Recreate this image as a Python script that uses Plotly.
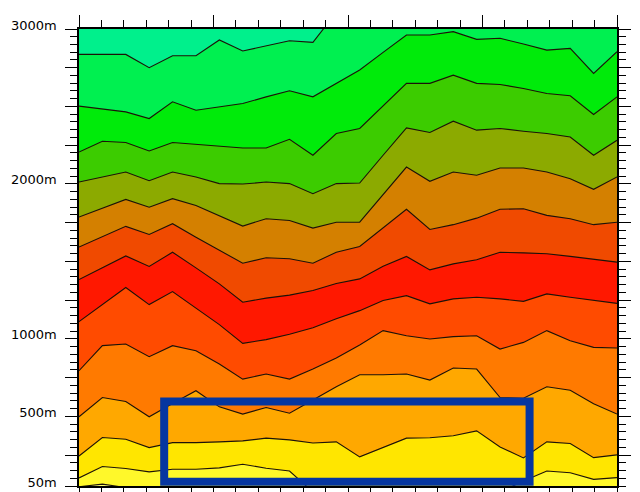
import plotly.graph_objects as go

# 24 soundings spread evenly over the day (hours 0-24)
hours = [round(k * 24 / 23, 4) for k in range(24)]

# Height (m) of each contour line at every sounding, listed from the top line down
line_01 = [2836, 2836, 2836, 2750, 2827, 2827, 2929, 2858, 2892, 2924, 2914, 3103,
           3300, 3300, 3300, 3300, 3300, 3300, 3300, 3300, 3300, 3300, 3300, 3300]
line_02 = [2502, 2484, 2465, 2422, 2530, 2476, 2497, 2519, 2562, 2601, 2562, 2649,
           2735, 2849, 2961, 2961, 2983, 2933, 2940, 2903, 2864, 2875, 2713, 2853]
line_03 = [2206, 2275, 2267, 2213, 2267, 2254, 2243, 2232, 2232, 2288, 2185, 2325,
           2358, 2504, 2649, 2649, 2702, 2649, 2642, 2616, 2584, 2569, 2448, 2562]
line_04 = [2012, 2045, 2077, 2021, 2077, 2045, 2002, 1999, 2012, 2002, 1937, 2002,
           2006, 2185, 2362, 2332, 2405, 2347, 2358, 2340, 2325, 2303, 2185, 2282]
line_05 = [1786, 1842, 1900, 1850, 1905, 1861, 1795, 1728, 1775, 1764, 1715, 1753,
           1753, 1933, 2109, 2017, 2077, 2056, 2103, 2103, 2077, 2034, 1965, 2045]
line_06 = [1592, 1659, 1726, 1674, 1743, 1656, 1570, 1488, 1523, 1517, 1488, 1559,
           1596, 1719, 1836, 1706, 1737, 1779, 1836, 1840, 1797, 1775, 1737, 1753]
line_07 = [1383, 1460, 1535, 1467, 1559, 1458, 1355, 1236, 1263, 1282, 1312, 1357,
           1387, 1469, 1532, 1445, 1484, 1510, 1559, 1555, 1549, 1532, 1514, 1495]
line_08 = [1111, 1221, 1331, 1221, 1305, 1198, 1092, 971, 995, 1030, 1072, 1130,
           1182, 1247, 1279, 1226, 1258, 1268, 1258, 1242, 1290, 1268, 1247, 1229]
line_09 = [794, 956, 967, 885, 956, 923, 837, 740, 773, 740, 805, 876,
           960, 1053, 1020, 999, 1014, 1020, 934, 977, 1053, 988, 945, 941]
line_10 = [497, 621, 595, 497, 583, 665, 561, 514, 557, 520, 605, 691,
           768, 768, 773, 734, 812, 805, 621, 616, 691, 668, 581, 514]
line_11 = [244, 363, 352, 298, 330, 330, 335, 341, 359, 348, 328, 335,
           238, 296, 359, 361, 374, 406, 302, 231, 335, 324, 233, 251]
line_12 = [102, 176, 163, 141, 158, 158, 167, 190, 165, 147, 11, 11,
           11, 11, 11, 11, 11, 11, 11, 82, 147, 136, 93, 104]
line_13 = [45, 62, 40, 20, 20, 20, 20, 20, 20, 20, 20, 20,
           20, 20, 20, 20, 20, 20, 20, 20, 20, 20, 20, 20]

contour_lines = [line_01, line_02, line_03, line_04, line_05, line_06, line_07,
                 line_08, line_09, line_10, line_11, line_12, line_13]

# Band colours: the first is the band above the top line, then one per line below it
band_top = "#00F08C"
band_colors = ["#00F050", "#00EB0A", "#3CCC00", "#8CAA00", "#D48000", "#F04A00",
               "#FF1800", "#FF4B00", "#FF7A00", "#FFA800", "#FFE600", "#FFF82A",
               "#FFFF70"]

# Height axis
height_range = [50, 3000]
height_labels = {50: "50m", 500: "500m", 1000: "1000m", 2000: "2000m", 3000: "3000m"}

# Highlighted window (hours, metres)
box_hours = (3.8, 20.1)
box_heights = (78, 595)

fig = go.Figure()

for heights, color in zip(contour_lines, band_colors):
    fig.add_trace(go.Scatter(
        x=hours, y=heights, mode="lines", fill="tozeroy", fillcolor=color,
        line=dict(color="#1c1208", width=1.1), hoverinfo="skip", showlegend=False,
    ))

# empty trace so the right-hand height axis is drawn
fig.add_trace(go.Scatter(x=[None], y=[None], yaxis="y2", showlegend=False,
                         hoverinfo="skip"))

fig.add_shape(type="rect", xref="x", yref="y",
              x0=box_hours[0], x1=box_hours[1], y0=box_heights[0], y1=box_heights[1],
              line=dict(color="#0636A0", width=8), fillcolor="rgba(0,0,0,0)")

major_heights = sorted(set(list(height_labels) + list(range(250, 3001, 250))))
tick_text = [height_labels.get(v, "") for v in major_heights]

axis_common = dict(showline=True, linecolor="black", linewidth=1.5, ticks="outside",
                   tickcolor="black", tickwidth=1.2, showgrid=False, zeroline=False,
                   automargin=False)

fig.update_layout(
    width=640, height=492,
    margin=dict(l=79, r=23, t=29, b=6, autoexpand=False),
    paper_bgcolor="white", plot_bgcolor=band_top,
    xaxis=dict(range=[0, 24], tickvals=[0, 6, 12, 18, 24], ticklen=12,
               showticklabels=False, mirror="ticks",
               minor=dict(dtick=1, tick0=0, ticks="outside", ticklen=7,
                          tickcolor="black", tickwidth=1.2, showgrid=False),
               **axis_common),
    yaxis=dict(range=height_range, tickmode="array", tickvals=major_heights,
               ticktext=tick_text, ticklen=12, ticklabelstandoff=6,
               ticklabelshift=-4, ticklabeloverflow="allow",
               tickfont=dict(family="DejaVu Sans", size=13, color="black"),
               minor=dict(dtick=50, tick0=0, ticks="outside", ticklen=7,
                          tickcolor="black", tickwidth=1.2, showgrid=False),
               **axis_common),
    yaxis2=dict(range=height_range, overlaying="y", side="right", dtick=250, tick0=0,
                ticklen=12, showticklabels=False,
                minor=dict(dtick=50, tick0=0, ticks="outside", ticklen=7,
                           tickcolor="black", tickwidth=1.2, showgrid=False),
                **axis_common),
)

fig.write_html("out.html")
